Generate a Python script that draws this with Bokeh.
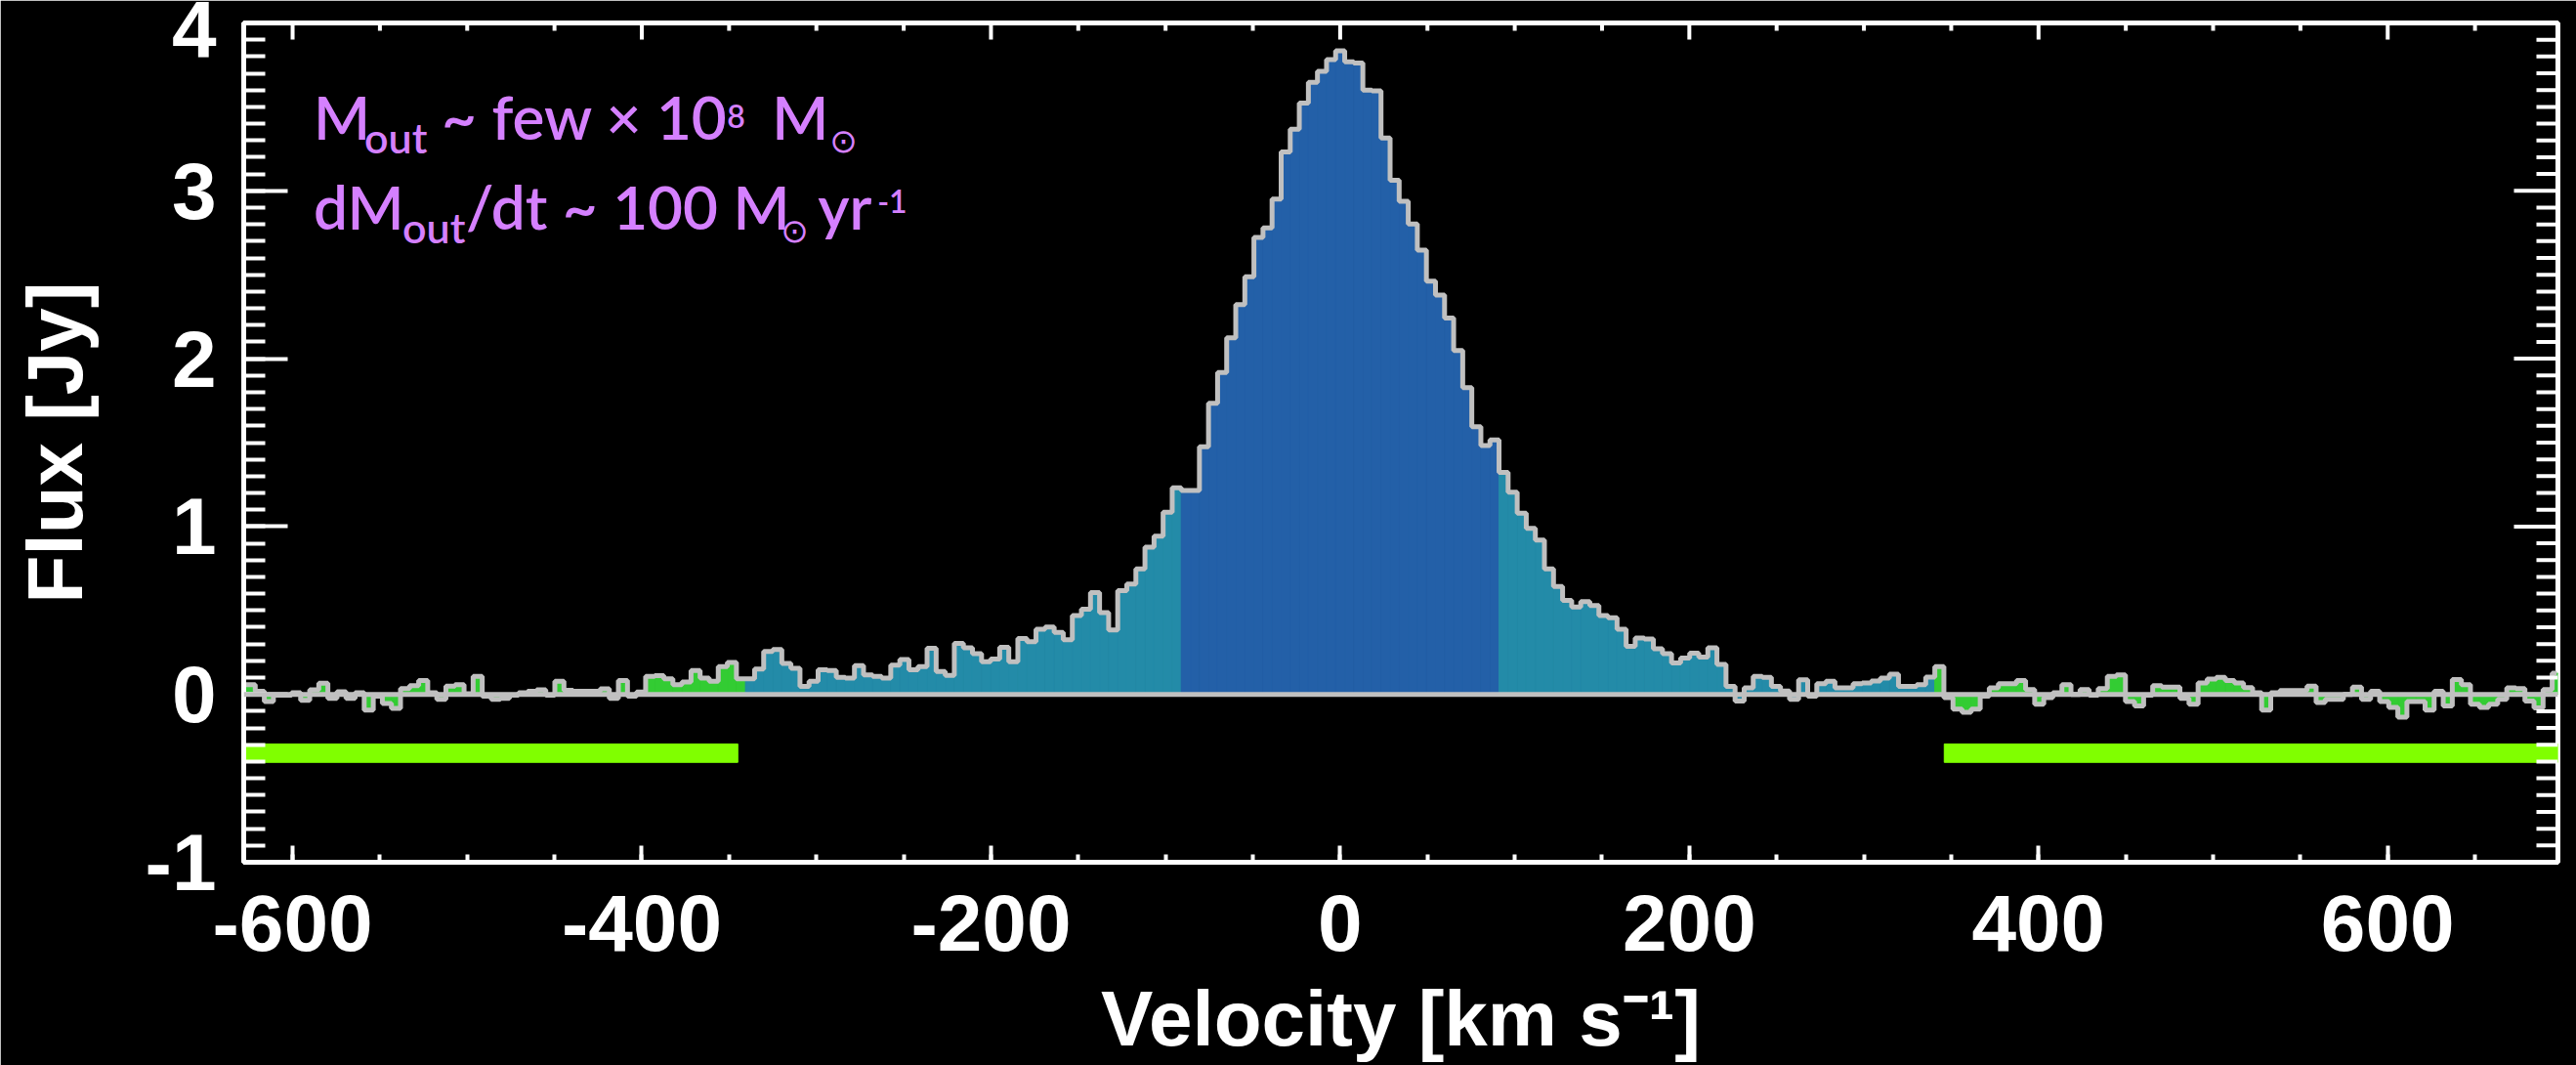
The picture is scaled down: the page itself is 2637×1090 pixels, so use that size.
import numpy as np
from bokeh.plotting import figure
from bokeh.models import Range1d, SingleIntervalTicker, Label, Span, ColumnDataSource
from bokeh.embed import file_html
from bokeh.resources import INLINE

# ---------------- data ----------------
channel_width = 5.2          # km/s per channel
first_channel = -121         # channel index of first value (v = index * width)

noise_left = [0.058, 0.058, 0.019, -0.043, -0.004, -0.004, 0.010, -0.035, 0.027, 0.066,
              -0.023, 0.016, -0.023, 0.010, -0.093, -0.010, -0.054, -0.083, 0.035, 0.052,
              0.083, 0.010, -0.029, 0.049, 0.058, 0.004, 0.107, -0.010, -0.029, -0.023,
              -0.004, 0.010, 0.019, 0.027, -0.004, 0.078, 0.025, 0.019, 0.019, 0.019,
              0.033, -0.023, 0.083, -0.010, 0.014, 0.107, 0.112, 0.093, 0.058, 0.074,
              0.142, 0.097, 0.078, 0.165, 0.190, 0.093]
wing_left = [0.093, 0.151, 0.256, 0.268, 0.184, 0.155, 0.048, 0.078, 0.146, 0.142,
             0.101, 0.097, 0.171, 0.116, 0.107, 0.097, 0.175, 0.208, 0.146, 0.165,
             0.275, 0.136, 0.113, 0.304, 0.277, 0.243, 0.194, 0.210, 0.281, 0.194,
             0.333, 0.314, 0.388, 0.402, 0.369, 0.326, 0.470, 0.508, 0.607, 0.487,
             0.384, 0.618, 0.657, 0.747, 0.877, 0.942, 1.085, 1.231]
core = [1.215, 1.215, 1.475, 1.735, 1.917, 2.125, 2.322, 2.488, 2.722, 2.779,
        2.951, 3.232, 3.367, 3.523, 3.647, 3.712, 3.782, 3.834, 3.769, 3.762,
        3.600, 3.595, 3.315, 3.063, 2.938, 2.803, 2.647, 2.462, 2.379, 2.242,
        2.049, 1.828, 1.594, 1.483, 1.516]
wing_right = [1.322, 1.205, 1.080, 0.989, 0.919, 0.747, 0.643, 0.560, 0.521, 0.552,
              0.530, 0.470, 0.456, 0.388, 0.287, 0.336, 0.330, 0.272, 0.243, 0.188,
              0.217, 0.246, 0.223, 0.278, 0.179, 0.048, -0.039, 0.039, 0.107, 0.101,
              0.048, 0.020, -0.029, 0.087, -0.010, 0.064, 0.078, 0.039, 0.039, 0.064,
              0.068, 0.080, 0.097, 0.120, 0.048, 0.048, 0.058, 0.103]
noise_right = [0.165, -0.019, -0.087, -0.107, -0.087, -0.010, 0.039, 0.064, 0.064, 0.083,
               0.029, -0.058, -0.019, 0.010, 0.058, 0.000, 0.029, -0.004, 0.035, 0.107,
               0.116, -0.043, -0.068, -0.004, 0.052, 0.043, 0.043, -0.023, -0.058, 0.068,
               0.091, 0.101, 0.082, 0.068, 0.040, 0.010, -0.093, 0.010, 0.023, 0.023,
               0.023, 0.049, -0.049, -0.029, -0.029, 0.000, 0.043, -0.029, 0.019, -0.043,
               -0.078, -0.136, -0.043, -0.043, -0.093, 0.019, -0.068, 0.088, 0.058, -0.058,
               -0.078, -0.058, -0.029, 0.039, 0.035, -0.039, -0.081, 0.029, 0.126]

x_ticks = [-600, -400, -200, 0, 200, 400, 600]
x_tick_labels = ["-600", "-400", "-200", "0", "200", "400", "600"]
y_ticks = [-1, 0, 1, 2, 3, 4]
y_tick_labels = ["-1", "0", "1", "2", "3", "4"]

band_start = [-628, 346]
band_end = [-345, 697.5]
band_level = -0.35
band_half_height = 0.055

X0, X1 = -628, 697.5
Y0, Y1 = -1, 4

# ---------------- styles ----------------
CORE = "#2360a8"
WING = "#238ba8"
NOISE = "#33cc33"
OUTLINE = "#c0c0c0"
BAND = "#80ff00"
PURPLE = "#d580ff"
AXFONT = "Liberation Sans"
TXTFONT = "'Lato Semibold', Lato"

segments = [(noise_left, NOISE), (wing_left, WING), (core, CORE), (wing_right, WING), (noise_right, NOISE)]
flux = np.concatenate([np.array(s, dtype=float) for s, _ in segments])
colors = sum([[c] * len(s) for s, c in segments], [])
vel = (np.arange(len(flux)) + first_channel) * channel_width

src = ColumnDataSource(dict(left=vel - channel_width / 2, right=vel + channel_width / 2,
                            top=flux, bottom=np.zeros_like(flux), color=colors))

p = figure(width=2637, height=1090, x_range=Range1d(X0, X1), y_range=Range1d(Y0, Y1),
           output_backend="svg", toolbar_location=None, tools="",
           background_fill_color="black", border_fill_color="black",
           min_border_left=249, min_border_right=19, min_border_top=23, min_border_bottom=208)
p.grid.visible = False
p.outline_line_color = "white"
p.outline_line_width = 5

# fills
p.quad(left="left", right="right", top="top", bottom="bottom", fill_color="color",
       line_color="color", line_width=1, source=src)
# noise bands
p.quad(left=band_start, right=band_end, bottom=band_level - band_half_height,
       top=band_level + band_half_height, fill_color=BAND, line_color=BAND)
# outline
p.step(x=vel, y=flux, mode="center", line_color=OUTLINE, line_width=5)
p.add_layout(Span(location=0, dimension="width", line_color=OUTLINE, line_width=5))

# ticks on the top and right frame edges (mirror of the bottom/left axes)
top_major = [t for t in x_ticks]
top_minor = [v for v in range(-600, 700, 50) if v % 200 != 0 and X0 < v < X1]
right_major = [t for t in y_ticks]
right_minor = [round(v, 1) for v in np.arange(-0.9, 4.0, 0.1) if abs(v - round(v)) > 1e-6]
p.ray(x=top_major, y=Y1, length=17, length_units="screen", angle=-np.pi / 2,
      line_color="white", line_width=4)
p.ray(x=top_minor, y=Y1, length=8, length_units="screen", angle=-np.pi / 2,
      line_color="white", line_width=4)
p.ray(x=X1, y=right_major, length=45, length_units="screen", angle=np.pi,
      line_color="white", line_width=4)
p.ray(x=X1, y=right_minor, length=22, length_units="screen", angle=np.pi,
      line_color="white", line_width=4)


def style_axis(ax, tin, minor_in):
    ax.axis_line_color = "white"
    ax.axis_line_width = 5
    ax.major_tick_line_color = "white"
    ax.major_tick_line_width = 4
    ax.major_tick_in = tin
    ax.major_tick_out = 0
    ax.minor_tick_line_color = "white"
    ax.minor_tick_line_width = 4
    ax.minor_tick_in = minor_in
    ax.minor_tick_out = 0
    ax.major_label_text_color = "white"
    ax.major_label_text_font = AXFONT
    ax.major_label_text_font_style = "bold"
    ax.major_label_text_font_size = "82px"
    ax.axis_label_text_font = AXFONT
    ax.axis_label_text_font_style = "bold"
    ax.axis_label_text_font_size = "80px"
    ax.axis_label_text_color = "white"


xb = p.xaxis[0]
xb.ticker = SingleIntervalTicker(interval=200, num_minor_ticks=4)
xb.major_label_overrides = dict(zip(x_ticks, x_tick_labels))
style_axis(xb, 17, 8)
xb.major_label_standoff = 33
xb.axis_label = "Velocity [km s\u207b\u00b9]"
xb.axis_label_standoff = 22

yl = p.yaxis[0]
yl.ticker = SingleIntervalTicker(interval=1, num_minor_ticks=10)
yl.major_label_overrides = dict(zip(y_ticks, y_tick_labels))
style_axis(yl, 45, 22)
yl.major_label_standoff = 28
yl.axis_label = "Flux [Jy]"
yl.axis_label_standoff = 45


# annotation text: (text, x pixel, baseline pixel, font px)
def to_data(px, py, fs):
    x = X0 + (px - 249.5) / 1.7867
    y = Y1 - (py - 23 - 0.43 * fs) / 171.8
    return x, y


pieces = [
    ("M", 321, 145, 62, TXTFONT),
    ("out", 373, 158, 43, TXTFONT),
    ("~ few \u00d7 10", 452, 145, 62, TXTFONT),
    ("8", 744, 132, 32, TXTFONT),
    ("M", 790, 145, 62, TXTFONT),
    ("\u2299", 849, 158, 34, "DejaVu Sans"),
    ("dM", 321, 237, 62, TXTFONT),
    ("out", 412, 250, 43, TXTFONT),
    ("/dt ~ 100 M", 477, 237, 62, TXTFONT),
    ("\u2299", 799, 250, 34, "DejaVu Sans"),
    ("yr", 837, 237, 62, TXTFONT),
    ("-1", 898, 219, 32, TXTFONT),
]
for t, px, py, fs, font in pieces:
    x, y = to_data(px, py, fs)
    p.add_layout(Label(x=x, y=y, text=t, text_font=font, text_font_size=f"{fs}px",
                       text_color=PURPLE, text_baseline="alphabetic", text_align="left"))

open("out.html", "w").write(file_html(p, INLINE))
